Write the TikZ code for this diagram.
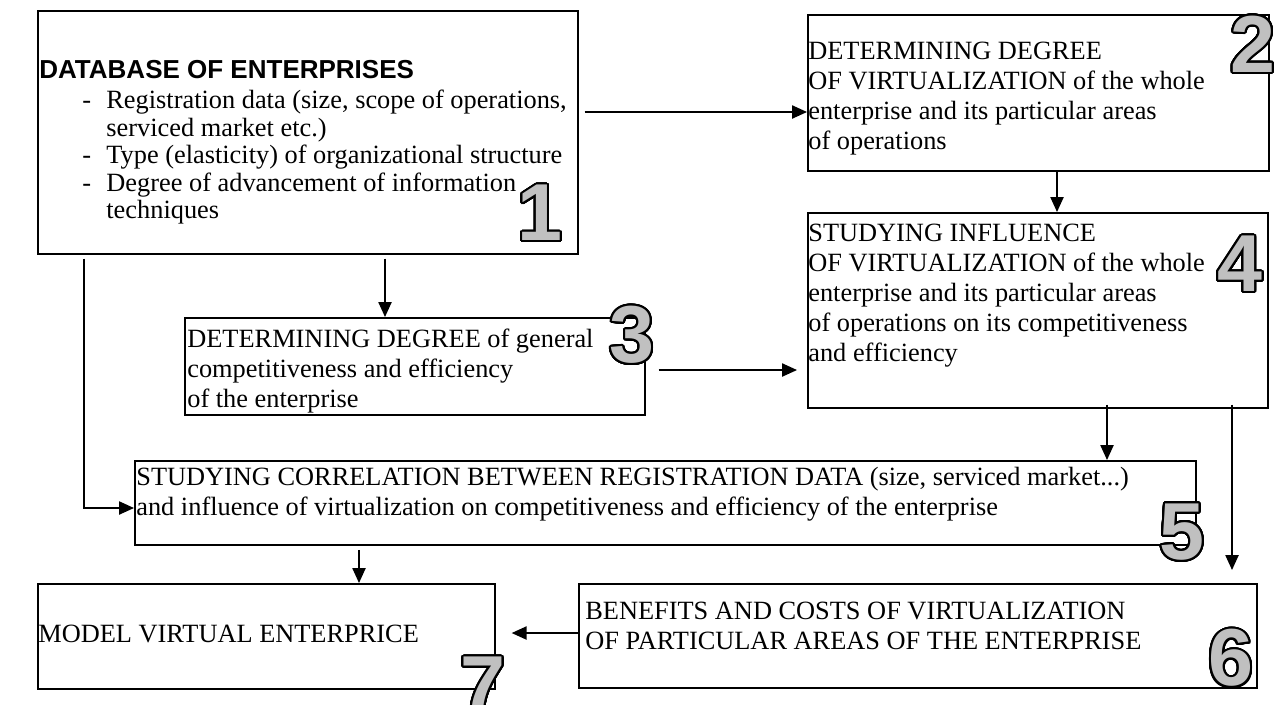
\documentclass[tikz,border=0pt]{standalone}
\usepackage{fontspec}
\setmainfont{Liberation Serif}
\newfontfamily\headfont{Liberation Sans}
\usepackage{contour}
\contourlength{1.1pt}
\contournumber{40}
\usetikzlibrary{arrows.meta}
\definecolor{digitgray}{RGB}{192,192,192}

\tikzset{
	box/.style={draw, line width=1pt, anchor=north west, inner sep=0pt},
	txt/.style={anchor=north west, inner sep=0pt, align=left, font=\fontsize{15}{17}\selectfont},
	digit/.style={inner sep=0pt, font=\fontsize{46}{46}\headfont\bfseries},
	arr/.style={line width=0.9pt, -{Triangle[length=8.5pt,width=7.5pt]}}
}
\newcommand{\bignum}[1]{{\color{digitgray}\contour{black}{#1}}}

\begin{document}
\begin{tikzpicture}[x=0.02cm, y=-0.02cm]
				\useasboundingbox (0,0) rectangle (1283,704);
				% boxes
				\node[box, minimum width=10.8cm, minimum height=4.86cm] (b1) at (37,10) {};
				\node[box, minimum width=9.22cm, minimum height=3.12cm] (b2) at (807,14) {};
				\node[box, minimum width=9.2cm, minimum height=1.94cm] (b3) at (184,317) {};
				\node[box, minimum width=9.2cm, minimum height=3.9cm] (b4) at (807,212) {};
				\node[box, minimum width=21.22cm, minimum height=1.68cm] (b5) at (134,460) {};
				\node[box, minimum width=13.56cm, minimum height=2.08cm] (b6) at (578,583) {};
				\node[box, minimum width=9.14cm, minimum height=2.1cm] (b7) at (37,583) {};
				% texts
				\node[txt, font=\fontsize{14.8}{17}\headfont\bfseries] (t1) at (39,60) {DATABASE OF ENTERPRISES};
				\node[txt, font=\fontsize{15}{15.6}\selectfont] (t1list) at (82,90) {%
					\makebox[13.7pt][l]{-}Registration data (size, scope of operations,\\
					\makebox[13.7pt][l]{}serviced market etc.)\\
					\makebox[13.7pt][l]{-}Type (elasticity) of organizational structure\\
					\makebox[13.7pt][l]{-}Degree of advancement of information\\
					\makebox[13.7pt][l]{}techniques};
				\node[txt] (t2) at (808,42) {DETERMINING DEGREE\\ OF VIRTUALIZATION of the whole\\ enterprise and its particular areas\\ of operations};
				\node[txt] (t3) at (187,329) {DETERMINING DEGREE of general\\ competitiveness and efficiency\\ of the enterprise};
				\node[txt] (t4) at (808,224) {STUDYING INFLUENCE\\ OF VIRTUALIZATION of the whole\\ enterprise and its particular areas\\ of operations on its competitiveness\\ and efficiency};
				\node[txt] (t5) at (136,467) {STUDYING CORRELATION BETWEEN REGISTRATION DATA (size, serviced market...)\\ and influence of virtualization on competitiveness and efficiency of the enterprise};
				\node[txt] (t6) at (585,602) {BENEFITS AND COSTS OF VIRTUALIZATION\\ OF PARTICULAR AREAS OF THE ENTERPRISE};
				\node[txt] (t7) at (38,625) {MODEL VIRTUAL ENTERPRICE};
				% numbers
				\node[digit] (n1) at (540,214) {\bignum{1}};
				\node[digit] (n2) at (1253,45) {\bignum{2}};
				\node[digit] (n3) at (632,336) {\bignum{3}};
				\node[digit] (n4) at (1240,265) {\bignum{4}};
				\node[digit] (n5) at (1182,533) {\bignum{5}};
				\node[digit] (n6) at (1231,659) {\bignum{6}};
				\node[digit] (n7) at (483,686) {\bignum{7}};
				% arrows
				\draw[arr] ([shift={(6,102)}]b1.north east) -- ([shift={(0,98)}]b2.north west);
				\draw[arr] ([shift={(348,4)}]b1.south west) -- ([shift={(201,0)}]b3.north west);
				\draw[arr] ([shift={(47,4)}]b1.south west) |- ([shift={(0,48)}]b5.north west);
				\draw[arr] ([shift={(250,0)}]b2.south west) -- ([shift={(250,0)}]b4.north west);
				\draw[arr] ([shift={(13,53)}]b3.north east) -- ([shift={(-10,158)}]b4.north west);
				\draw[arr] ([shift={(300,-4)}]b4.south west) -- ([shift={(973,0)}]b5.north west);
				\draw[arr] ([shift={(425,-4)}]b4.south west) -- ([shift={(654,-13)}]b6.north west);
				\draw[arr] ([shift={(225,4)}]b5.south west) -- ([shift={(322,0)}]b7.north west);
				\draw[arr] ([shift={(0,50)}]b6.north west) -- ([shift={(16,50)}]b7.north east);
			\end{tikzpicture}
\end{document}
